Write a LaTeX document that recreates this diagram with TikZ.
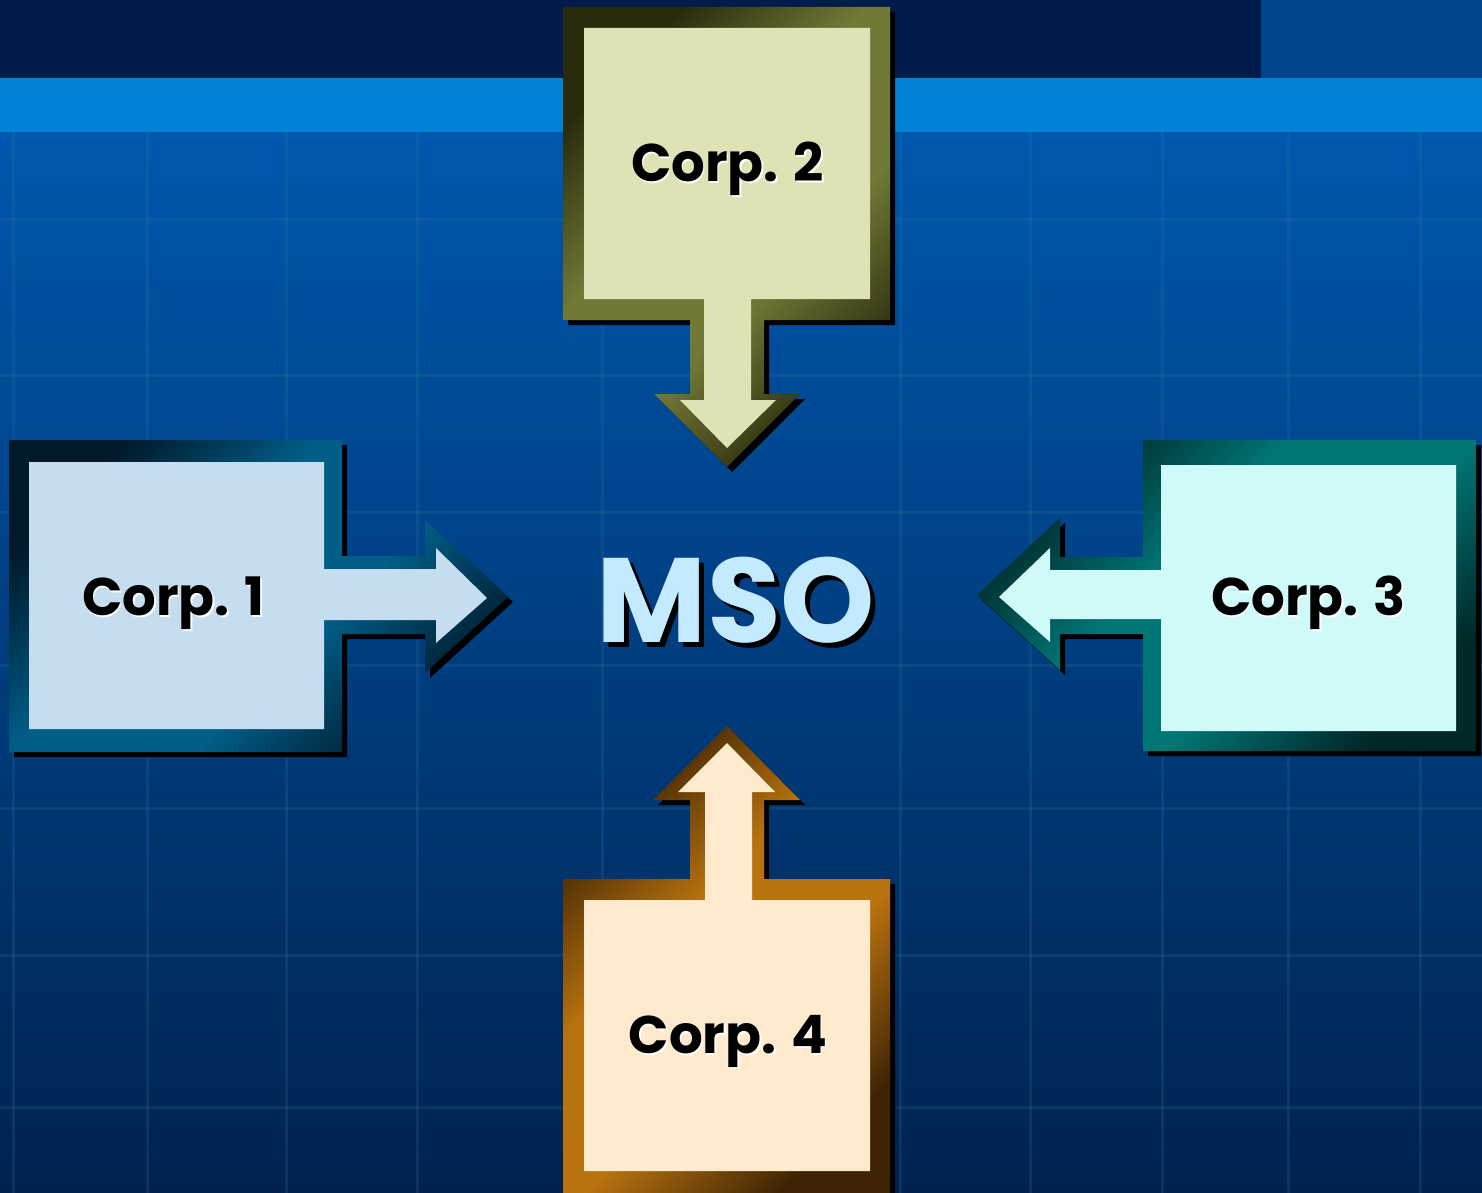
\documentclass[tikz,border=0pt]{standalone}
\usepackage{fontspec}
\setmainfont{Poppins}
\definecolor{navy}{HTML}{001C4A}
\definecolor{toprt}{HTML}{00468C}
\definecolor{strip}{HTML}{0082D6}
\definecolor{bgtop}{HTML}{0058AE}
\definecolor{bgmid}{HTML}{00469A}
\definecolor{bgbot}{HTML}{00224F}
\definecolor{gridc}{HTML}{2D7E9A}
\definecolor{fAd}{HTML}{001A2C}
\definecolor{fAl}{HTML}{005E88}
\definecolor{inA}{HTML}{C6DDEF}
\definecolor{fBd}{HTML}{282A0C}
\definecolor{fBl}{HTML}{727936}
\definecolor{inB}{HTML}{DFE2B4}
\definecolor{fCd}{HTML}{002828}
\definecolor{fCl}{HTML}{007676}
\definecolor{inC}{HTML}{D0F9F9}
\definecolor{fDd}{HTML}{3E2404}
\definecolor{fDl}{HTML}{B8720F}
\definecolor{inD}{HTML}{FFEACD}
\definecolor{msoc}{HTML}{C4EAFF}
\colorlet{fd}{black}
\colorlet{fl}{gray}
\pgfdeclarehorizontalshading[fd,fl]{framesh}{100bp}{color(0bp)=(fd); color(25bp)=(fd); color(42bp)=(fl); color(58bp)=(fl); color(75bp)=(fd); color(100bp)=(fd)}
\tikzset{
  gridline/.style={draw=gridc, line width=3pt, opacity=0.2},
  shadowfill/.style={fill=black},
  framefill/.style={shading=framesh, shading angle=-45},
  lbl/.style={font=\bfseries\fontsize{53}{53}\selectfont, anchor=base, inner sep=0pt, text=black},
  lblshadow/.style={lbl, text=white},
  bigl/.style={font=\bfseries\fontsize{120}{120}\selectfont, anchor=base, inner sep=0pt, text=msoc},
  bigshadow/.style={bigl, text=black}
}
% outer and inner outlines of the four box-arrows
\def\outerA{(9,440) -- (342,440) -- (342,556) -- (425,556) -- (425,520) -- (508,597) -- (425,673) -- (425,634) -- (342,634) -- (342,752) -- (9,752) -- cycle}
\def\innerA{(29,462) -- (324,462) -- (324,569) -- (436,569) -- (436,548) -- (487,598) -- (436,643) -- (436,620) -- (324,620) -- (324,729) -- (29,729) -- cycle}
\def\outerB{(563,7) -- (890,7) -- (890,320) -- (764,320) -- (764,394) -- (800,394) -- (727,467) -- (654,394) -- (690,394) -- (690,320) -- (563,320) -- cycle}
\def\innerB{(584,28) -- (870,28) -- (870,299) -- (751,299) -- (751,400) -- (776,400) -- (727,448) -- (680,400) -- (704,400) -- (704,299) -- (584,299) -- cycle}
\def\outerC{(1476,440) -- (1143,440) -- (1143,557) -- (1060,557) -- (1060,518) -- (977,595) -- (1060,670) -- (1060,634) -- (1143,634) -- (1143,751) -- (1476,751) -- cycle}
\def\innerC{(1456,465) -- (1161,465) -- (1161,570) -- (1050,570) -- (1050,548) -- (999,597) -- (1050,642) -- (1050,619) -- (1161,619) -- (1161,731) -- (1456,731) -- cycle}
\def\outerD{(563,879) -- (690,879) -- (690,800) -- (653,800) -- (727,726) -- (800,800) -- (764,800) -- (764,879) -- (890,879) -- (890,1200) -- (563,1200) -- cycle}
\def\innerD{(584,900) -- (705,900) -- (705,792) -- (678,792) -- (727,743) -- (775,792) -- (752,792) -- (752,900) -- (870,900) -- (870,1171) -- (584,1171) -- cycle}
\begin{document}
\begin{tikzpicture}[x=1pt,y=-1pt]
\useasboundingbox (0,0) rectangle (1482,1193);
% background
\shade[top color=bgtop, middle color=bgmid, bottom color=bgbot] (0,132) rectangle (1482,1193);
\fill[navy] (0,0) rectangle (1261,78);
\fill[toprt] (1261,0) rectangle (1482,78);
\fill[strip] (0,78) rectangle (1482,132);
\foreach \gx in {13,147,286,417,602,900,1030,1162,1288,1420}
  \draw[gridline] (\gx,132) -- (\gx,1193);
\foreach \gy in {219,375,512,665,808,955,1107}
  \draw[gridline] (0,\gy) -- (1482,\gy);
% shadows
\begin{scope}[shift={(5,5)}]
  \fill[shadowfill] \outerA;
  \fill[shadowfill] \outerB;
  \fill[shadowfill] \outerC;
  \fill[shadowfill] \outerD;
\end{scope}
% frames
\colorlet{fd}{fAd}\colorlet{fl}{fAl}
\shade[framefill] \outerA;
\colorlet{fd}{fBd}\colorlet{fl}{fBl}
\shade[framefill] \outerB;
\colorlet{fd}{fCd}\colorlet{fl}{fCl}
\shade[framefill] \outerC;
\colorlet{fd}{fDd}\colorlet{fl}{fDl}
\shade[framefill] \outerD;
% light faces
\fill[inA] \innerA;
\fill[inB] \innerB;
\fill[inC] \innerC;
\fill[inD] \innerD;
% labels
\node[lblshadow] (c1s) at (175,617) {Corp. 1};
\node[lbl] (c1) at (173.5,615) {Corp. 1};
\node[lblshadow] (c2s) at (729,184) {Corp. 2};
\node[lbl] (c2) at (727.5,182) {Corp. 2};
\node[lblshadow] (c3s) at (1310,617) {Corp. 3};
\node[lbl] (c3) at (1308.5,615) {Corp. 3};
\node[lblshadow] (c4s) at (729.5,1055) {Corp. 4};
\node[lbl] (c4) at (728,1053) {Corp. 4};
\node[bigshadow] (msos) at (741,647) {MSO};
\node[bigl] (mso) at (736,642) {MSO};
\end{tikzpicture}
\end{document}
